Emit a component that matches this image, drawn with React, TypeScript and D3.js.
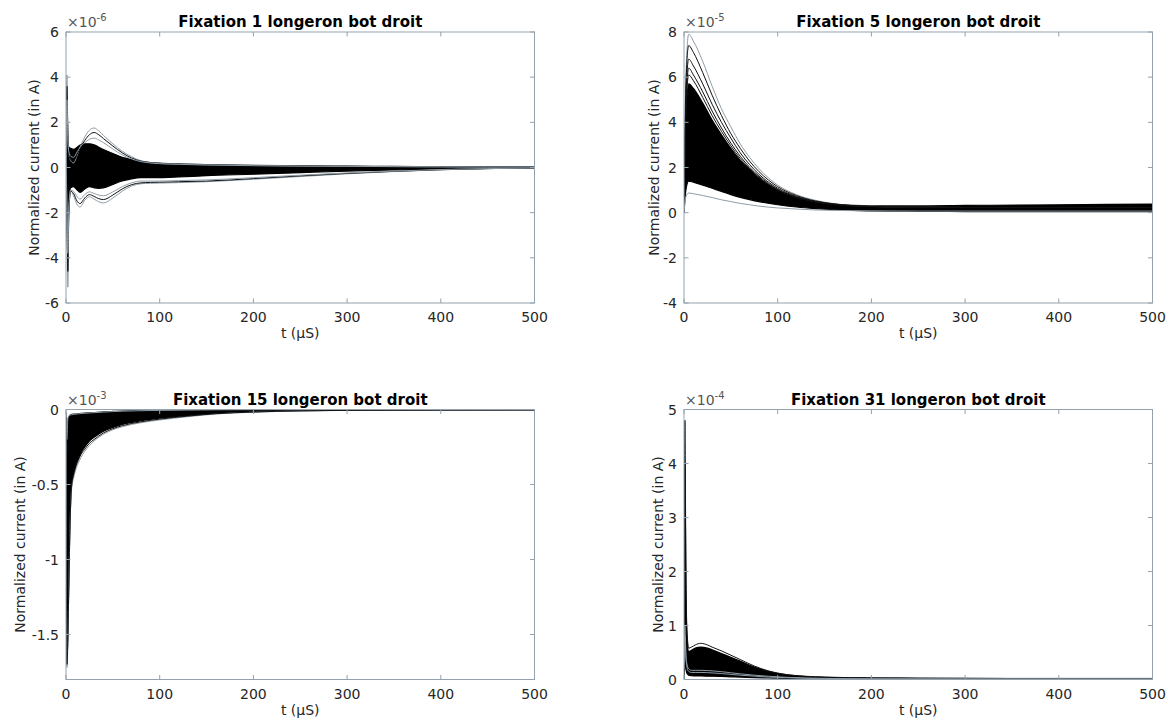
import React from "react";
import * as d3 from "d3";

// ---------- data (values in units of the panel exponent) ----------
const X_TICKS = [0, 100, 200, 300, 400, 500];

// Panel 1 : Fixation 1 (x1e-6)
const T1 = [0, 1, 2, 3, 5, 8, 12, 15, 20, 25, 30, 35, 40, 50, 60, 70, 80, 90, 100, 120, 150, 200, 250, 300, 350, 400, 450, 500];
const P1_BAND_HIGH = [0, 3.3, 1.2, 0.9, 0.85, 0.8, 0.9, 1.0, 1.05, 1.05, 1.0, 0.9, 0.8, 0.62, 0.45, 0.35, 0.27, 0.22, 0.19, 0.16, 0.13, 0.1, 0.08, 0.06, 0.05, 0.04, 0.03, 0.03];
const P1_BAND_LOW = [0, -2.5, -4.2, -1.6, -0.9, -0.85, -1.0, -1.1, -0.95, -0.85, -0.9, -0.92, -0.9, -0.75, -0.6, -0.5, -0.45, -0.45, -0.45, -0.42, -0.36, -0.3, -0.23, -0.16, -0.11, -0.07, -0.04, -0.03];
const P1_HI1 = [0, 4.1, 1.6, 0.6, 0.3, 0.2, 0.55, 0.9, 1.35, 1.65, 1.75, 1.62, 1.42, 1.05, 0.72, 0.48, 0.3, 0.22, 0.18, 0.15, 0.12, 0.09, 0.07, 0.05, 0.04, 0.03, 0.02, 0.02];
const P1_HI2 = [0, 3.6, 1.4, 0.55, 0.35, 0.3, 0.6, 0.85, 1.2, 1.45, 1.55, 1.45, 1.28, 0.95, 0.65, 0.42, 0.28, 0.21, 0.17, 0.14, 0.11, 0.08, 0.06, 0.05, 0.04, 0.03, 0.02, 0.02];
const P1_HI3 = [0, 3.0, 1.3, 0.7, 0.5, 0.45, 0.7, 0.9, 1.1, 1.25, 1.3, 1.22, 1.1, 0.82, 0.56, 0.38, 0.26, 0.2, 0.17, 0.14, 0.11, 0.08, 0.06, 0.05, 0.04, 0.03, 0.02, 0.02];
const P1_LO1 = [0, -2.0, -5.3, -2.2, -1.0, -1.25, -1.65, -1.75, -1.45, -1.3, -1.4, -1.52, -1.57, -1.35, -1.05, -0.82, -0.72, -0.7, -0.69, -0.67, -0.63, -0.52, -0.4, -0.28, -0.18, -0.1, -0.05, -0.02];
const P1_LO2 = [0, -1.8, -4.6, -2.0, -1.05, -1.15, -1.5, -1.6, -1.35, -1.2, -1.28, -1.38, -1.42, -1.22, -0.95, -0.76, -0.68, -0.66, -0.65, -0.63, -0.6, -0.49, -0.37, -0.26, -0.17, -0.1, -0.05, -0.02];
const P1_LO3 = [0, -1.5, -3.8, -1.8, -1.0, -1.05, -1.3, -1.4, -1.2, -1.08, -1.15, -1.22, -1.25, -1.08, -0.85, -0.68, -0.6, -0.6, -0.6, -0.58, -0.55, -0.45, -0.34, -0.24, -0.16, -0.09, -0.05, -0.02];

// Panel 2 : Fixation 5 (x1e-5)
const T2 = [0, 2, 5, 10, 20, 30, 40, 50, 60, 70, 80, 100, 120, 140, 160, 180, 200, 250, 300, 400, 500];
const P2_BAND_HIGH = [0, 4.0, 5.7, 5.5, 4.85, 4.1, 3.45, 2.85, 2.32, 1.9, 1.53, 1.0, 0.67, 0.47, 0.37, 0.32, 0.3, 0.3, 0.32, 0.35, 0.38];
const P2_BAND_LOW = [0, 1.0, 1.4, 1.35, 1.22, 1.08, 0.94, 0.8, 0.68, 0.58, 0.49, 0.35, 0.25, 0.18, 0.13, 0.1, 0.08, 0.06, 0.05, 0.05, 0.05];
const P2_HI1 = [0, 6.0, 7.9, 7.6, 6.7, 5.6, 4.6, 3.8, 3.05, 2.45, 1.95, 1.22, 0.8, 0.55, 0.4, 0.32, 0.28, 0.24, 0.23, 0.23, 0.23];
const P2_HI2 = [0, 5.6, 7.4, 7.1, 6.2, 5.2, 4.3, 3.5, 2.85, 2.28, 1.82, 1.15, 0.76, 0.52, 0.39, 0.31, 0.27, 0.24, 0.23, 0.23, 0.23];
const P2_HI3 = [0, 5.0, 6.8, 6.5, 5.7, 4.8, 4.0, 3.3, 2.65, 2.13, 1.7, 1.08, 0.72, 0.5, 0.38, 0.31, 0.27, 0.24, 0.23, 0.23, 0.23];
const P2_HI4 = [0, 4.6, 6.4, 6.1, 5.35, 4.5, 3.75, 3.08, 2.5, 2.01, 1.62, 1.03, 0.69, 0.48, 0.37, 0.3, 0.27, 0.24, 0.23, 0.23, 0.23];
const P2_HI5 = [0, 4.3, 6.1, 5.85, 5.1, 4.3, 3.6, 2.96, 2.4, 1.95, 1.57, 1.0, 0.67, 0.47, 0.36, 0.3, 0.27, 0.24, 0.23, 0.23, 0.23];
const P2_LO1 = [0, 0.7, 0.87, 0.84, 0.76, 0.67, 0.57, 0.49, 0.41, 0.35, 0.29, 0.21, 0.16, 0.12, 0.1, 0.09, 0.08, 0.07, 0.07, 0.07, 0.07];

// Panel 3 : Fixation 15 (x1e-3)
const T3 = [0, 1, 2, 3, 4, 5, 6, 8, 10, 13, 16, 20, 25, 30, 40, 50, 60, 80, 100, 130, 160, 200, 250, 300, 400, 500];
const P3_BAND_HIGH = [-0.02, -0.3, -0.08, -0.05, -0.04, -0.035, -0.033, -0.031, -0.03, -0.028, -0.026, -0.024, -0.022, -0.02, -0.016, -0.013, -0.01, -0.007, -0.005, -0.004, -0.003, -0.002, -0.001, -0.001, -0.001, -0.001];
const P3_BAND_LOW = [-0.05, -1.68, -1.5, -1.15, -0.82, -0.6, -0.5, -0.43, -0.38, -0.33, -0.29, -0.25, -0.21, -0.185, -0.145, -0.12, -0.1, -0.075, -0.058, -0.04, -0.026, -0.015, -0.008, -0.005, -0.003, -0.003];
const P3_LO1 = [-0.05, -1.72, -1.55, -1.2, -0.86, -0.64, -0.53, -0.46, -0.41, -0.36, -0.32, -0.28, -0.24, -0.21, -0.165, -0.135, -0.115, -0.088, -0.07, -0.048, -0.03, -0.018, -0.01, -0.006, -0.004, -0.003];
const P3_LO2 = [-0.05, -1.7, -1.52, -1.17, -0.84, -0.62, -0.51, -0.44, -0.39, -0.34, -0.3, -0.265, -0.225, -0.2, -0.156, -0.128, -0.108, -0.082, -0.064, -0.044, -0.028, -0.017, -0.009, -0.006, -0.004, -0.003];
const P3_HI1 = [-0.02, -0.2, -0.06, -0.045, -0.04, -0.037, -0.035, -0.033, -0.031, -0.029, -0.027, -0.025, -0.023, -0.021, -0.017, -0.014, -0.011, -0.008, -0.006, -0.004, -0.002, -0.001, -0.001, -0.001, -0.001, -0.001];

// Panel 4 : Fixation 31 (x1e-4)
const T4 = [0, 1, 2, 3, 5, 8, 12, 18, 25, 30, 40, 50, 60, 75, 90, 110, 130, 150, 200, 250, 300, 400, 500];
const P4_BAND_HIGH = [0.6, 4.0, 1.7, 0.85, 0.52, 0.54, 0.58, 0.6, 0.58, 0.55, 0.48, 0.41, 0.34, 0.23, 0.15, 0.085, 0.055, 0.042, 0.028, 0.023, 0.02, 0.018, 0.018];
const P4_BAND_LOW = [0.0, 0.3, 0.2, 0.12, 0.08, 0.07, 0.065, 0.065, 0.062, 0.06, 0.056, 0.05, 0.045, 0.036, 0.03, 0.022, 0.016, 0.012, 0.009, 0.008, 0.008, 0.008, 0.008];
const P4_HI1 = [0.8, 4.8, 2.2, 1.0, 0.58, 0.6, 0.64, 0.67, 0.64, 0.6, 0.53, 0.45, 0.37, 0.25, 0.16, 0.09, 0.06, 0.045, 0.03, 0.025, 0.02, 0.02, 0.02];
const P4_MID1 = [0.3, 1.0, 0.5, 0.3, 0.2, 0.17, 0.17, 0.17, 0.165, 0.16, 0.145, 0.125, 0.105, 0.08, 0.06, 0.04, 0.028, 0.02, 0.012, 0.01, 0.009, 0.009, 0.009];
const P4_MID2 = [0.2, 0.8, 0.4, 0.25, 0.15, 0.13, 0.13, 0.13, 0.127, 0.122, 0.11, 0.095, 0.08, 0.062, 0.046, 0.031, 0.022, 0.016, 0.01, 0.009, 0.008, 0.008, 0.008];

const GRAY = "#8e9ca6";
const BLACK = "#111";

const PANELS = [
  {
    id: "p1", title: "Fixation 1 longeron bot droit", exp: "-6",
    left: 66, right: 534.5, top: 32, bottom: 303,
    yDomain: [-6, 6], yTicks: [-6, -4, -2, 0, 2, 4, 6], ylabelX: 39,
    t: T1, bandHigh: P1_BAND_HIGH, bandLow: P1_BAND_LOW,
    lines: [
      { v: P1_HI1, c: GRAY }, { v: P1_HI2, c: BLACK }, { v: P1_HI3, c: GRAY },
      { v: P1_LO1, c: GRAY }, { v: P1_LO2, c: BLACK }, { v: P1_LO3, c: GRAY },
    ],
  },
  {
    id: "p2", title: "Fixation 5 longeron bot droit", exp: "-5",
    left: 684, right: 1152.5, top: 32, bottom: 303,
    yDomain: [-4, 8], yTicks: [-4, -2, 0, 2, 4, 6, 8], ylabelX: 659,
    t: T2, bandHigh: P2_BAND_HIGH, bandLow: P2_BAND_LOW,
    lines: [
      { v: P2_HI1, c: GRAY }, { v: P2_HI2, c: BLACK }, { v: P2_HI3, c: BLACK },
      { v: P2_HI4, c: BLACK }, { v: P2_HI5, c: BLACK }, { v: P2_LO1, c: GRAY },
    ],
  },
  {
    id: "p3", title: "Fixation 15 longeron bot droit", exp: "-3",
    left: 66, right: 534.5, top: 409.5, bottom: 679.5,
    yDomain: [-1.8, 0], yTicks: [-1.5, -1, -0.5, 0], ylabelX: 25,
    t: T3, bandHigh: P3_BAND_HIGH, bandLow: P3_BAND_LOW,
    lines: [
      { v: P3_HI1, c: GRAY }, { v: P3_LO1, c: GRAY }, { v: P3_LO2, c: BLACK },
    ],
  },
  {
    id: "p4", title: "Fixation 31 longeron bot droit", exp: "-4",
    left: 684, right: 1152.5, top: 409.5, bottom: 679.5,
    yDomain: [0, 5], yTicks: [0, 1, 2, 3, 4, 5], ylabelX: 663,
    t: T4, bandHigh: P4_BAND_HIGH, bandLow: P4_BAND_LOW,
    lines: [
      { v: P4_HI1, c: BLACK }, { v: P4_MID1, c: GRAY }, { v: P4_MID2, c: GRAY },
    ],
  },
];

const FONT = "'DejaVu Sans', sans-serif";
const AXIS_COLOR = "#93a2ae";
const TEXT_COLOR = "#262626";
const TICK_LEN = 4.5;

function Panel({ p }: { p: any }) {
  const x = d3.scaleLinear().domain([0, 500]).range([p.left, p.right]);
  const y = d3.scaleLinear().domain(p.yDomain).range([p.bottom, p.top]);
  const idx = p.t.map((_: number, i: number) => i);
  const area = d3
    .area<number>()
    .x((i) => x(p.t[i]))
    .y0((i) => y(p.bandLow[i]))
    .y1((i) => y(p.bandHigh[i]))
    .curve(d3.curveMonotoneX);
  const lineGen = (vals: number[]) =>
    d3
      .line<number>()
      .x((i) => x(p.t[i]))
      .y((i) => y(vals[i]))
      .curve(d3.curveMonotoneX)(idx) || "";
  const cx = (p.left + p.right) / 2;
  const cy = (p.top + p.bottom) / 2;
  return (
    <g>
      <defs>
        <clipPath id={`clip-${p.id}`}>
          <rect x={p.left} y={p.top} width={p.right - p.left} height={p.bottom - p.top} />
        </clipPath>
      </defs>
      <g clipPath={`url(#clip-${p.id})`}>
        <path d={area(idx) || ""} fill="#000" stroke="#000" strokeWidth={1.2} />
        {p.lines.map((l: any, k: number) => (
          <path key={k} d={lineGen(l.v)} fill="none" stroke={l.c} strokeWidth={1} />
        ))}
      </g>
      {/* box */}
      <rect x={p.left} y={p.top} width={p.right - p.left} height={p.bottom - p.top}
        fill="none" stroke={AXIS_COLOR} strokeWidth={1} />
      {/* x ticks */}
      {X_TICKS.map((v) => (
        <g key={`x${v}`}>
          <line x1={x(v)} x2={x(v)} y1={p.bottom} y2={p.bottom - TICK_LEN} stroke={AXIS_COLOR} />
          <line x1={x(v)} x2={x(v)} y1={p.top} y2={p.top + TICK_LEN} stroke={AXIS_COLOR} />
          <text x={x(v)} y={p.bottom + 19} textAnchor="middle" fontSize={14} fill={TEXT_COLOR} fontFamily={FONT}>
            {String(v)}
          </text>
        </g>
      ))}
      {/* y ticks */}
      {p.yTicks.map((v: number) => (
        <g key={`y${v}`}>
          <line x1={p.left} x2={p.left + TICK_LEN} y1={y(v)} y2={y(v)} stroke={AXIS_COLOR} />
          <line x1={p.right} x2={p.right - TICK_LEN} y1={y(v)} y2={y(v)} stroke={AXIS_COLOR} />
          <text x={p.left - 7} y={y(v) + 5} textAnchor="end" fontSize={14} fill={TEXT_COLOR} fontFamily={FONT}>
            {String(v)}
          </text>
        </g>
      ))}
      {/* exponent */}
      <text x={p.left + 1} y={p.top - 5} fontSize={14} fill="#555" fontFamily={FONT}>
        ×10
        <tspan fontSize={10} dy={-6}>{p.exp}</tspan>
      </text>
      {/* title */}
      <text x={cx} y={p.top - 5} textAnchor="middle" fontSize={15} fontWeight="bold" fill="#000" fontFamily={FONT}>
        {p.title}
      </text>
      {/* x label */}
      <text x={cx} y={p.bottom + 35} textAnchor="middle" fontSize={14} fill={TEXT_COLOR} fontFamily={FONT}>
        t (µS)
      </text>
      {/* y label */}
      <text transform={`translate(${p.ylabelX},${cy}) rotate(-90)`} textAnchor="middle" fontSize={14}
        fill={TEXT_COLOR} fontFamily={FONT}>
        Normalized current (in A)
      </text>
    </g>
  );
}

export default function App() {
  return (
    <svg width={1168} height={722} style={{ position: "absolute", left: 0, top: 0, background: "#fff" }}>
      <rect width={1168} height={722} fill="#fff" />
      {PANELS.map((p) => (
        <Panel key={p.id} p={p} />
      ))}
    </svg>
  );
}
